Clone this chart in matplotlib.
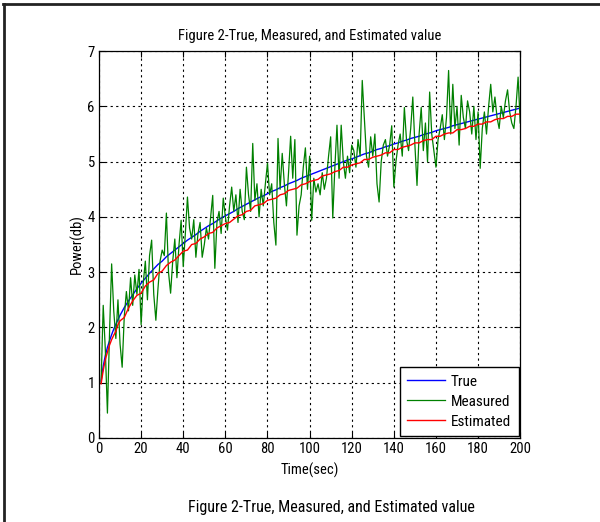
import matplotlib
matplotlib.use("Agg")
import matplotlib.pyplot as plt
from matplotlib.lines import Line2D

plt.rcParams['font.family'] = ['Roboto Condensed', 'Liberation Sans Narrow', 'Liberation Sans', 'DejaVu Sans']

# time axis for the smooth curves (true / estimated)
t_curve = [1, 2, 3, 4, 5, 6, 7, 8, 9, 10] + list(range(12, 201, 2))

true_vals = [1.03, 1.30, 1.49, 1.64, 1.76, 1.87, 1.97, 2.06, 2.14, 2.22,
             2.36, 2.48, 2.59, 2.70, 2.80, 2.89, 2.98, 3.06, 3.14, 3.20,
             3.28, 3.34, 3.40, 3.46, 3.52, 3.58, 3.63, 3.68, 3.74, 3.79,
             3.84, 3.88, 3.93, 3.98, 4.02, 4.06, 4.10, 4.15, 4.19, 4.23,
             4.27, 4.31, 4.35, 4.38, 4.42, 4.46, 4.49, 4.53, 4.56, 4.60,
             4.63, 4.66, 4.70, 4.73, 4.76, 4.79, 4.82, 4.85, 4.88, 4.91,
             4.94, 4.97, 5.00, 5.03, 5.05, 5.08, 5.11, 5.14, 5.16, 5.19,
             5.22, 5.24, 5.27, 5.29, 5.32, 5.34, 5.37, 5.39, 5.42, 5.44,
             5.46, 5.49, 5.51, 5.53, 5.56, 5.58, 5.60, 5.62, 5.65, 5.67,
             5.69, 5.71, 5.73, 5.75, 5.77, 5.79, 5.81, 5.83, 5.85, 5.87,
             5.89, 5.91, 5.93, 5.95, 5.97]

est_vals = [0.98, 1.22, 1.42, 1.55, 1.68, 1.78, 1.86, 1.93, 2.05, 2.12,
            2.18, 2.35, 2.48, 2.58, 2.62, 2.75, 2.82, 2.86, 2.98, 3.02,
            3.12, 3.18, 3.22, 3.30, 3.38, 3.40, 3.50, 3.52, 3.60, 3.64,
            3.70, 3.72, 3.80, 3.84, 3.88, 3.90, 3.96, 4.02, 4.04, 4.10,
            4.12, 4.20, 4.22, 4.24, 4.30, 4.32, 4.34, 4.40, 4.42, 4.48,
            4.50, 4.52, 4.58, 4.60, 4.64, 4.66, 4.68, 4.74, 4.76, 4.78,
            4.82, 4.84, 4.90, 4.90, 4.94, 4.96, 4.98, 5.04, 5.04, 5.08,
            5.10, 5.12, 5.16, 5.16, 5.22, 5.22, 5.26, 5.28, 5.30, 5.34,
            5.34, 5.38, 5.40, 5.40, 5.46, 5.46, 5.50, 5.52, 5.52, 5.58,
            5.58, 5.60, 5.64, 5.64, 5.68, 5.68, 5.72, 5.72, 5.76, 5.78,
            5.78, 5.82, 5.82, 5.86, 5.86]

# measured samples, one per second
t_meas = list(range(1, 201))
meas_vals = [1.00, 2.40, 1.60, 0.45, 1.90, 3.15, 2.30, 1.80, 2.50, 1.70,
             1.28, 2.20, 2.65, 2.30, 2.90, 2.40, 2.95, 2.60, 3.05, 2.05,
             2.80, 3.20, 2.50, 3.30, 3.58, 2.60, 2.13, 2.70, 3.20, 3.40,
             3.30, 4.07, 3.00, 2.62, 3.20, 3.60, 2.90, 3.50, 3.94, 3.10,
             3.70, 4.36, 3.80, 3.60, 3.95, 3.27, 3.70, 3.90, 3.27, 3.50,
             3.80, 3.60, 4.00, 4.39, 3.07, 3.90, 4.10, 3.70, 4.34, 4.00,
             3.76, 4.20, 4.54, 4.10, 4.40, 3.90, 4.50, 4.10, 3.95, 4.90,
             4.40, 4.10, 5.33, 4.30, 4.60, 4.00, 4.50, 4.20, 4.60, 4.97,
             4.40, 4.60, 3.90, 3.49, 5.42, 4.50, 5.15, 4.60, 4.20, 4.80,
             5.46, 4.70, 5.40, 3.67, 4.20, 4.40, 4.90, 5.25, 4.50, 5.10,
             3.94, 4.70, 4.45, 4.60, 4.40, 4.80, 4.50, 4.70, 5.10, 5.45,
             3.98, 4.90, 5.66, 4.70, 5.66, 5.00, 4.70, 5.10, 4.80, 5.30,
             5.20, 4.90, 5.40, 5.10, 6.47, 5.80, 5.10, 4.90, 5.45, 5.10,
             5.50, 4.60, 4.27, 5.00, 5.30, 5.40, 5.10, 5.30, 5.65, 4.54,
             5.00, 5.30, 5.50, 5.10, 5.98, 5.40, 5.20, 5.60, 6.17, 5.30,
             4.57, 5.50, 5.98, 5.20, 5.70, 5.00, 6.26, 5.50, 5.20, 4.90,
             5.40, 5.60, 5.85, 5.40, 5.80, 6.65, 5.50, 6.40, 5.60, 6.00,
             5.30, 6.20, 5.80, 5.60, 6.10, 5.90, 5.50, 6.00, 5.40, 5.90,
             4.88, 5.60, 5.90, 5.50, 6.00, 6.40, 5.90, 6.17, 5.80, 5.60,
             6.00, 5.80, 6.10, 6.30, 5.90, 5.70, 5.60, 6.00, 6.53, 5.70]

x_ticks = list(range(0, 201, 20))
y_ticks = list(range(0, 8))

title = "Figure 2-True, Measured, and Estimated value"

fig = plt.figure(figsize=(6, 5.22), dpi=100)
ax = fig.add_axes([0.165, 0.161, 0.702, 0.741])

ax.plot(t_curve, true_vals, color='#0000ff', lw=1.0, label='True')
ax.plot(t_meas, meas_vals, color='#008000', lw=0.9, label='Measured')
ax.plot(t_curve, est_vals, color='#ff0000', lw=1.0, label='Estimated')

ax.set_xlim(0, 200)
ax.set_ylim(0, 7)
ax.set_xticks(x_ticks)
ax.set_yticks(y_ticks)
ax.grid(True, color='black', linestyle=(0, (2, 3)), linewidth=0.8)
ax.tick_params(direction='in', top=True, right=True, length=4, labelsize=10.5, pad=3)
for s in ax.spines.values():
    s.set_linewidth(0.9)

ax.set_title(title, fontsize=10.5, pad=8)
ax.set_xlabel("Time(sec)", fontsize=10.5, labelpad=5)
ax.set_ylabel("Power(db)", fontsize=10.5, labelpad=2)

leg = ax.legend(loc='lower right', fontsize=11, fancybox=False, framealpha=1,
                edgecolor='black', borderaxespad=0.1, handlelength=2.5,
                handletextpad=0.35, labelspacing=0.4, borderpad=0.5)
leg.get_frame().set_linewidth(1.0)

fig.text(0.553, 0.027, title, ha='center', va='center', fontsize=11.5)

# page frame (top and left edges)
fig.add_artist(Line2D([0.005, 1.0], [0.992, 0.992], transform=fig.transFigure,
                      color='#222222', lw=2))
fig.add_artist(Line2D([0.0067, 0.0067], [0.0, 0.993], transform=fig.transFigure,
                      color='#222222', lw=2))

fig.savefig("out.png", dpi=100)
